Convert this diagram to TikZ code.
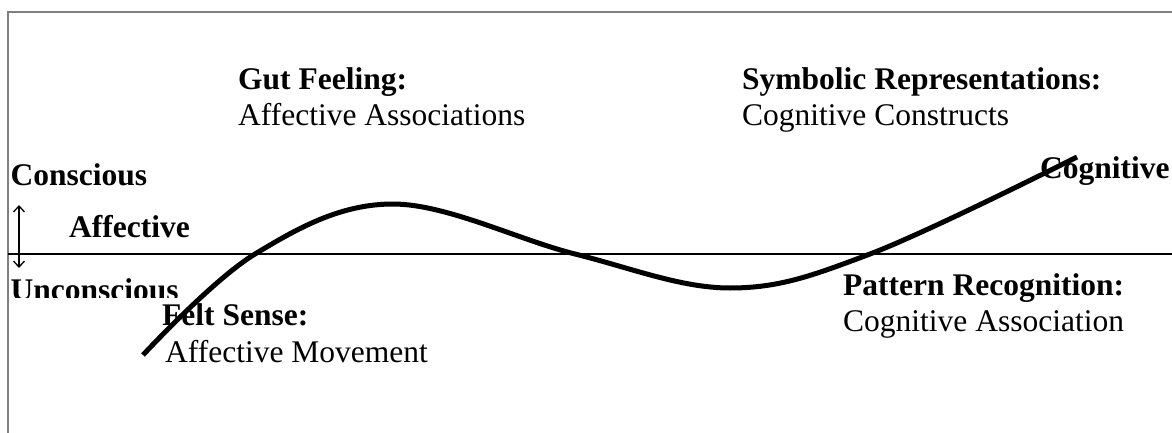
\documentclass[tikz,border=0pt]{standalone}
\usepackage{fontspec}
\setmainfont{Liberation Serif}
\usetikzlibrary{arrows.meta}
\begin{document}
\begin{tikzpicture}[x=1pt,y=-1pt,
  lbl/.style={inner sep=0pt,anchor=base west,font=\fontsize{31.5}{36}\selectfont},
  blbl/.style={lbl,font=\fontsize{31.5}{36}\selectfont\bfseries},
  frame/.style={draw=black!50,line width=2pt},
  curve/.style={line width=5pt},
  axis/.style={line width=1.4pt}]
\useasboundingbox (0,0) rectangle (1172,433);
% frame
\coordinate (ftl) at (7.5,12.5);
\coordinate (ftr) at (1172,12.5);
\coordinate (fbl) at (7.5,433);
\draw[frame] (fbl) -- (ftl) -- (ftr);
% horizontal threshold line
\coordinate (hl) at (8,254);
\coordinate (hr) at (1172,254);
\draw[axis] (hl) -- (hr);
% arrow
\coordinate (at) at (19,205);
\coordinate (ab) at (19,268);
\draw[line width=1.3pt,{Straight Barb[length=6pt,width=11pt]}-{Straight Barb[length=6pt,width=11pt]}] (at) -- (ab);
% labels
\node[blbl] (consc) at (10.5,185) {Conscious};
\node[blbl] (aff) at (69,237) {Affective};
\begin{scope}
\clip (0,256) rectangle (300,297.5);
\node[blbl] (uncon) at (10.5,300) {Unconscious};
\end{scope}
\node[blbl] (gut) at (238,90) {Gut Feeling:};
\node[lbl] (gutsub) at (238,126) {Affective Associations};
\node[blbl] (sym) at (742,90) {Symbolic Representations:};
\node[lbl] (symsub) at (742,126) {Cognitive Constructs};
\node[blbl] (cog) at (1040,178) {Cognitive};
\node[blbl] (felt) at (162,325) {Felt Sense:};
\node[lbl] (feltsub) at (165,362) {Affective Movement};
\node[blbl] (pat) at (843,295) {Pattern Recognition:};
\node[lbl] (patsub) at (843,331) {Cognitive Association};
% curve
\draw[curve] plot[smooth,tension=0.6] coordinates {(143,355) (255,254) (393,204) (575,254) (730,288) (870,254) (1077,157)};
\end{tikzpicture}
\end{document}
